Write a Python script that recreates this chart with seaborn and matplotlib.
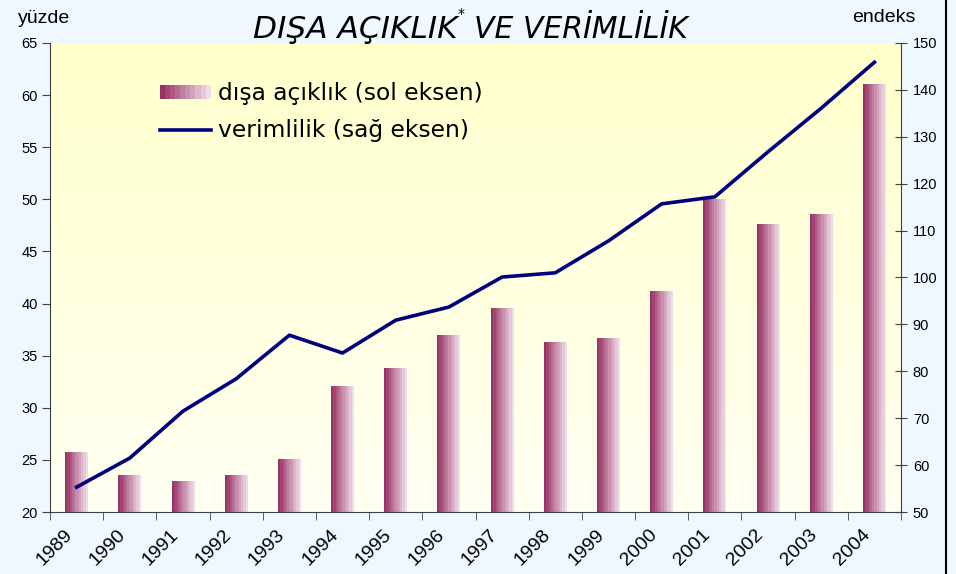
import matplotlib.pyplot as plt
import numpy as np
import pandas as pd
import seaborn as sns
from matplotlib.colors import LinearSegmentedColormap
from matplotlib.legend_handler import HandlerBase
from matplotlib.lines import Line2D
from matplotlib.patches import Rectangle
from matplotlib.transforms import ScaledTranslation

# Veri
years = ["1989", "1990", "1991", "1992", "1993", "1994", "1995", "1996",
         "1997", "1998", "1999", "2000", "2001", "2002", "2003", "2004"]
disa_aciklik = [25.7, 23.5, 22.9, 23.55, 25.0, 32.0, 33.8, 36.9,
                39.5, 36.3, 36.6, 41.2, 50.0, 47.6, 48.5, 61.0]
verimlilik = [55.3, 61.5, 71.5, 78.4, 87.7, 83.9, 90.9, 93.7,
              100.1, 101.0, 107.8, 115.7, 117.2, 126.8, 136.1, 145.9]
left_ticks = [20, 25, 30, 35, 40, 45, 50, 55, 60, 65]
right_ticks = [50, 60, 70, 80, 90, 100, 110, 120, 130, 140, 150]

plt.rcParams["font.family"] = "Liberation Sans"
spine_color = "#404040"
bar_cmap = LinearSegmentedColormap.from_list("bar", ["#993366", "#F0DCE8"])
bg_cmap = LinearSegmentedColormap.from_list("bg", ["#FFFFF2", "#FFFFCC"])

fig = plt.figure(figsize=(9.56, 5.74), dpi=100)
fig.patch.set_facecolor("#F0F8FF")
axes_box = [50 / 956, 62 / 574, 851 / 956, 469 / 574]
ax = fig.add_axes(axes_box)

# yellow gradient background of the plot area
ax.imshow(np.linspace(1, 0, 256).reshape(-1, 1), cmap=bg_cmap, aspect="auto",
          extent=[0, 1, 0, 1], transform=ax.transAxes, zorder=0)

df = pd.DataFrame({"yil": years, "disa": disa_aciklik})
sns.barplot(data=df, x="yil", y="disa", ax=ax, width=0.43, color="#993366",
            saturation=1, zorder=2)

# horizontal gradient on each bar
grad = np.linspace(0, 1, 10).reshape(1, -1)
for p in list(ax.patches):
    x0, y0, w, h = p.get_x(), p.get_y(), p.get_width(), p.get_height()
    p.set_facecolor("none")
    p.set_edgecolor("none")
    ax.imshow(grad, cmap=bar_cmap, extent=[x0, x0 + w, y0, y0 + h],
              aspect="auto", interpolation="nearest", zorder=2)

ax.set_xlim(-0.5, len(years) - 0.5)
ax.set_ylim(20, 65)
ax.set_yticks(left_ticks)
ax.set_xlabel("")
ax.set_ylabel("")

ax2 = ax.twinx()
ax2.set_position(axes_box)
sns.lineplot(x=np.arange(len(years)), y=verimlilik, ax=ax2, color="#000080",
             linewidth=2.6, zorder=3)
ax2.set_ylim(50, 150)
ax2.set_yticks(right_ticks)
ax2.set_ylabel("")
ax2.set_xlim(-0.5, len(years) - 0.5)

for a in (ax, ax2):
    a.spines["top"].set_visible(False)
    for s in a.spines.values():
        s.set_color(spine_color)
ax.spines["right"].set_visible(False)
ax2.spines["left"].set_visible(False)
ax2.spines["bottom"].set_visible(False)

ax.tick_params(axis="y", direction="out", length=6, labelsize=10.5,
               color=spine_color, pad=3)
ax2.tick_params(axis="y", direction="inout", length=9, labelsize=10.5,
                color=spine_color, pad=4)

# x axis: labels near centre, tick marks at category boundaries
ax.set_xticks(np.arange(len(years)))
ax.set_xticks(np.arange(len(years) + 1) - 0.5, minor=True)
ax.tick_params(axis="x", which="major", length=0, pad=10)
ax.tick_params(axis="x", which="minor", length=6, color=spine_color)
ax.set_xticklabels(years, rotation=45, ha="right", va="top",
                   rotation_mode="anchor", fontsize=14)
for lbl in ax.get_xticklabels():
    lbl.set_transform(lbl.get_transform()
                      + ScaledTranslation(-0.13, 0, fig.dpi_scale_trans))


class GradientPatchHandler(HandlerBase):
    def create_artists(self, legend, orig_handle, xdescent, ydescent,
                       width, height, fontsize, trans):
        n = 10
        return [
            Rectangle((-xdescent + i * width / n, -ydescent), width / n, height,
                      facecolor=bar_cmap(i / (n - 1)), edgecolor="none",
                      transform=trans)
            for i in range(n)
        ]


bar_handle = Rectangle((0, 0), 1, 1)
line_handle = Line2D([], [], color="#000080", linewidth=2.6)
ax2.legend([bar_handle, line_handle],
           ["dışa açıklık (sol eksen)", "verimlilik (sağ eksen)"],
           handler_map={bar_handle: GradientPatchHandler()},
           loc="upper left", bbox_to_anchor=(0.115, 0.942), frameon=False,
           prop={"family": "DejaVu Sans", "size": 16.8}, handlelength=2.2,
           handleheight=0.55, handletextpad=0.3, labelspacing=0.62,
           borderpad=0)

# title with superscript asterisk
t1 = fig.text(253 / 956, 1 - 38 / 574, "DIŞA AÇIKLIK", fontsize=22.5,
              style="italic", family="DejaVu Sans", ha="left", va="baseline")
ax.annotate("*", xy=(1, 0.78), xycoords=t1, fontsize=10,
            family="DejaVu Sans", ha="left", va="bottom",
            annotation_clip=False)
ax.annotate("VE VERİMLİLİK", xy=(1, 0), xycoords=t1, xytext=(12, 0),
            textcoords="offset points", fontsize=21.5, style="italic",
            family="DejaVu Sans", ha="left", va="bottom",
            annotation_clip=False)

fig.text(18 / 956, 1 - 23 / 574, "yüzde", fontsize=14, va="baseline")
fig.text(884 / 956, 1 - 22 / 574, "endeks", fontsize=14, va="baseline",
         ha="center")

fig.add_artist(Line2D([946 / 956, 946 / 956], [0, 1], color="black",
                      linewidth=1.5, transform=fig.transFigure))

plt.savefig("out.png", dpi=100, facecolor=fig.get_facecolor())
